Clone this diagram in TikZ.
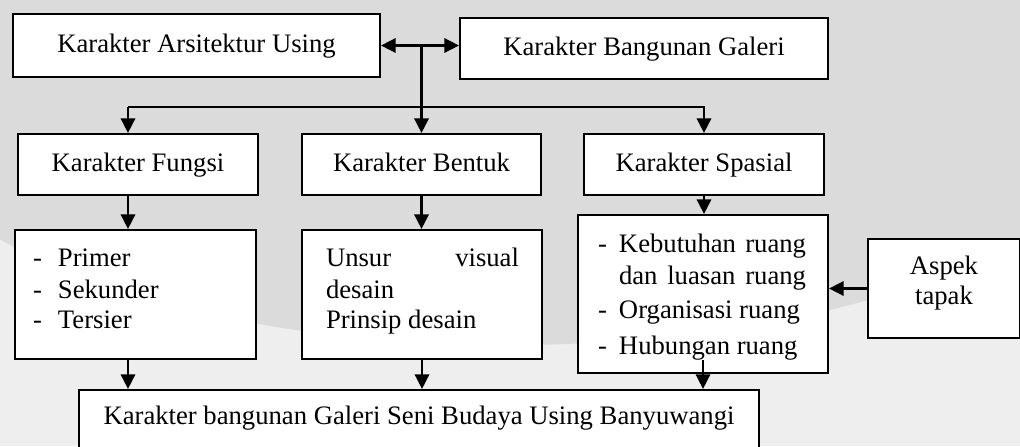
\documentclass[tikz,border=0pt]{standalone}
\usepackage{fontspec}
\setmainfont{Liberation Serif}
\usetikzlibrary{arrows.meta,calc}

% one drawing unit = 0.45pt
\newdimen\pxu \pxu=0.45pt
\definecolor{logoGrey}{RGB}{219,219,219}
\definecolor{paleGrey}{RGB}{238,238,238}

% fixed-size text block: #1 width, #2 height, #3 lines
\newcommand\boxlines[3]{\vbox to #2\pxu{\hsize=#1\pxu\offinterlineskip#3\vss}}
% one line: #1 distance from previous baseline, #2 left indent, #3 text
\newcommand\bline[3]{\kern#1\pxu\hbox to \hsize{\kern#2\pxu\smash{#3}\hss}}
% one centred line: #1 distance from previous baseline, #2 text
\newcommand\midtext[2]{\kern#1\pxu\hbox to \hsize{\hss\smash{#2}\hss}}

\tikzset{
  box/.style={draw, line width=0.9pt, fill=white, inner sep=0pt,
    font=\fontsize{12}{14}\selectfont, anchor=north west},
  oneline/.style={text height=8.1pt, text depth=1.8pt},
  size/.style 2 args={minimum width=#1*0.45pt, minimum height=#2*0.45pt},
  conn/.style={line width=1.2pt, -{Triangle[length=6.6pt,width=6.4pt]}},
  conntwo/.style={line width=1.2pt,
    {Triangle[length=6.6pt,width=6.4pt]}-{Triangle[length=6.6pt,width=6.4pt]}},
}

\begin{document}
\begin{tikzpicture}[x=0.45pt,y=-0.45pt]
\useasboundingbox (0,0) rectangle (1020,446);
\clip (0,0) rectangle (1020,446);

% backdrop
\fill[paleGrey] (0,0) rectangle (1020,446);
\fill[logoGrey] (510,100) ellipse [x radius=620, y radius=245];

% top row
\node[box, oneline, size={367}{63}] (arch) at (12,13) {Karakter Arsitektur Using};
\node[box, oneline, size={368}{61}] (gal) at (459,17) {Karakter Bangunan Galeri};

% second row
\node[box, oneline, size={240}{61}] (fungsi) at (17,133) {Karakter Fungsi};
\node[box, oneline, size={239}{61}] (bentuk) at (301,133) {Karakter Bentuk};
\node[box, oneline, size={240}{61}] (spasial) at (583,133) {Karakter Spasial};

% detail boxes
\node[box] (fd) at (14,229) {\boxlines{241}{129}{%
  \bline{36}{18}{\makebox[25\pxu][l]{-}Primer}
  \bline{32}{18}{\makebox[25\pxu][l]{-}Sekunder}
  \bline{30}{18}{\makebox[25\pxu][l]{-}Tersier}}};
\node[box] (bd) at (301,229) {\boxlines{240}{129}{%
  \bline{36}{24}{\makebox[193\pxu][s]{Unsur visual}}
  \bline{32}{24}{desain}
  \bline{30}{24}{Prinsip desain}}};
\node[box] (sd) at (577,214) {\boxlines{250}{158}{%
  \bline{37}{20}{\makebox[21\pxu][l]{-}\makebox[187\pxu][s]{Kebutuhan ruang}}
  \bline{32}{41}{\makebox[187\pxu][s]{dan luasan ruang}}
  \bline{34}{20}{\makebox[21\pxu][l]{-}Organisasi ruang}
  \bline{36}{20}{\makebox[21\pxu][l]{-}Hubungan ruang}}};
\node[box] (aspek) at (867,238) {\boxlines{152}{99}{%
  \midtext{35}{Aspek}
  \midtext{30}{tapak}}};

% result
\node[box, size={680}{63}, text height=8.1pt, text depth=5.85pt] (bottom) at (78,389)
  {Karakter bangunan Galeri Seni Budaya Using Banyuwangi};

% connectors
\coordinate (colF) at (128,0);
\coordinate (bar) at (420,107);
\draw[conntwo] (arch.east) -- (arch.east -| gal.west);
\draw[conn] (arch.east -| bentuk.north) -- (bentuk.north);
\draw[conn] (bar -| colF) -- (fungsi.north -| colF);
\draw[conn] (bar -| colF) -- (bar -| spasial.north) -- (spasial.north);

\draw[conn] (fungsi.south -| colF) -- (fd.north -| colF);
\draw[conn] (bentuk.south) -- (bentuk.south |- bd.north);
\draw[conn] (spasial.south) -- (spasial.south |- sd.north);

\draw[conn] (fd.south -| colF) -- (bottom.north -| colF);
\draw[conn] (bd.south) -- (bd.south |- bottom.north);
\draw[conn] (sd.south |- fd.south) -- (sd.south |- bottom.north);
\draw[conn] (aspek.west) -- (aspek.west -| sd.east);
\end{tikzpicture}
\end{document}
